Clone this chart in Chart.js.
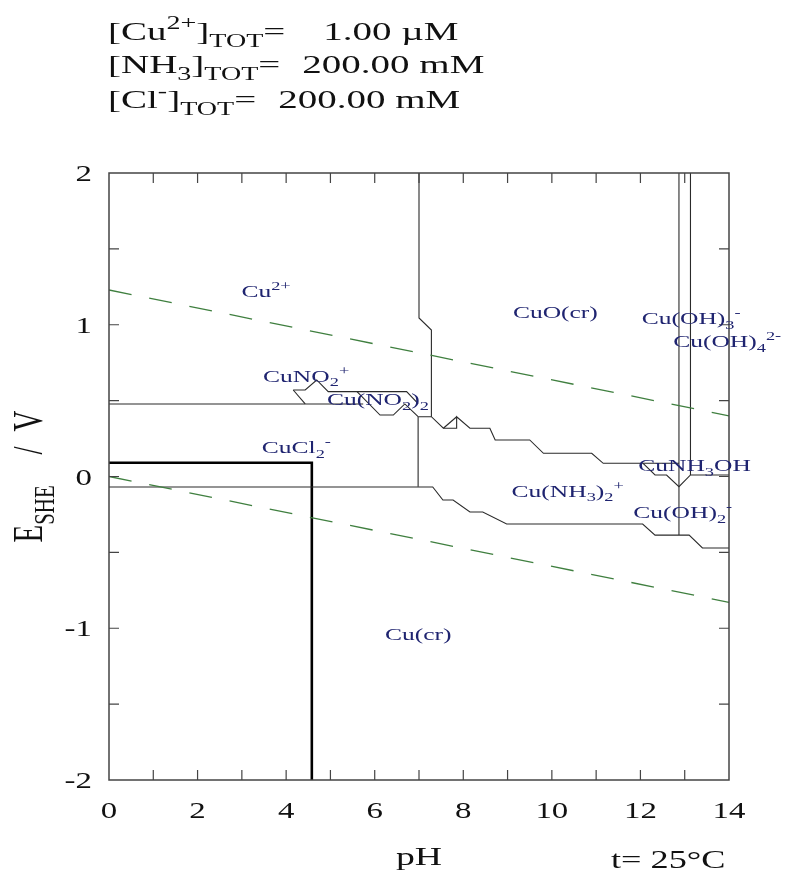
<!DOCTYPE html>
<html>
<head>
<meta charset="utf-8">
<script src="https://cdn.jsdelivr.net/npm/chart.js@4.4.1/dist/chart.umd.min.js"></script>
<style>
  html, body { margin: 0; padding: 0; background: #fff; }
  #wrap { width: 789px; height: 873px; }
</style>
</head>
<body>
<div id="wrap"><canvas id="pourbaix" width="789" height="873"></canvas></div>
<script>
// axis ticks
const xTickLabels = [0, 2, 4, 6, 8, 10, 12, 14];
const yTickLabels = [2, 1, 0, -1, -2];
const xMinor = [1, 2, 3, 4, 5, 6, 7, 8, 9, 10, 11, 12, 13];
const yMinor = [-1.5, -1, -0.5, 0, 0.5, 1, 1.5];

// water stability limits, [pH, E]
const waterUpper = [[0, 1.229], [14, 0.40]];
const waterLower = [[0, 0], [14, -0.829]];

// chloride complex field (heavy line)
const chlorideEdge = [[0, 0.091], [4.58, 0.091], [4.58, -2]];

// predominance boundaries, [pH, E]
const cuIonFloor = [[0, 0.478], [5.74, 0.478]];
const cuOxideWall = [[7.0, 2], [7.0, 1.045], [7.28, 0.965], [7.28, 0.394]];
const nitriteEdge = [[4.16, 0.57], [4.43, 0.478]];
const nitriteHatch = [[4.16, 0.57], [4.43, 0.57], [4.69, 0.636], [4.95, 0.559], [6.72, 0.559], [6.98, 0.48]];
const nitriteStep = [[5.6, 0.559], [6.12, 0.405], [6.42, 0.405], [6.68, 0.478], [6.98, 0.394]];
const ammineTop = [[6.98, 0.394], [7.28, 0.394], [7.55, 0.318], [7.85, 0.318], [7.85, 0.394], [8.15, 0.318],
  [8.6, 0.318], [8.72, 0.241], [9.5, 0.241], [9.81, 0.153], [10.9, 0.153], [11.16, 0.087], [12.87, 0.087]];
const ammineTriangle = [[7.55, 0.318], [7.85, 0.394]];
const ammineWall = [[6.98, 0.394], [6.98, -0.067]];
const metalEdge = [[0, -0.069], [7.31, -0.069], [7.54, -0.155], [7.77, -0.155], [8.15, -0.234], [8.44, -0.234],
  [8.98, -0.313], [12.05, -0.313], [12.33, -0.386], [13.1, -0.386], [13.4, -0.471], [14, -0.471]];
const hydroxoWallA = [[12.87, 2], [12.87, -0.386]];
const hydroxoWallB = [[13.13, 2], [13.13, 0.01]];
const hydroxoFloor = [[12.06, 0.087], [12.33, 0.01], [12.59, 0.01], [12.87, -0.067], [13.13, 0.01], [14, 0.01]];

// species labels: text, left pH, baseline E
const speciesText = ['Cu^{2+}', 'CuO(cr)', 'Cu(OH)_{3}^{-}', 'Cu(OH)_{4}^{2-}', 'CuNO_{2}^{+}', 'Cu(NO_{2})_{2}',
  'CuCl_{2}^{-}', 'CuNH_{3}OH', 'Cu(NH_{3})_{2}^{+}', 'Cu(OH)_{2}^{-}', 'Cu(cr)'];
const speciesPH = [2.99, 9.12, 12.03, 12.74, 3.48, 4.92, 3.45, 11.95, 9.09, 11.84, 6.23];
const speciesE = [1.183, 1.042, 1.003, 0.855, 0.625, 0.471, 0.153, 0.036, -0.133, -0.275, -1.08];

// totals printed above the plot
const totalNames = ['[Cu^{2+}]_{TOT}=', '[NH_{3}]_{TOT}=', '[Cl^{-}]_{TOT}='];
const totalValues = ['1.00 \u00b5M', '200.00 mM', '200.00 mM'];

const SERIF = '"Liberation Serif", "Times New Roman", serif';
const INK = '#1f2470';

function parseRich(str) {
  const parts = [];
  const re = /([_^])\{([^}]*)\}|([^_^]+)/g;
  let m;
  while ((m = re.exec(str)) !== null) {
    if (m[3] !== undefined) parts.push({ t: m[3], k: 'n' });
    else parts.push({ t: m[2], k: m[1] === '_' ? 'sub' : 'sup' });
  }
  return parts;
}

function richWidth(ctx, parts, size) {
  let w = 0;
  for (const p of parts) {
    ctx.font = (p.k === 'n' ? size : size * 0.72) + 'px ' + SERIF;
    w += ctx.measureText(p.t).width;
  }
  return w;
}

// draws text with sub/superscripts, stretched sideways by sx
function drawRich(ctx, str, x, y, size, opts = {}) {
  const sx = opts.sx || 1.45;
  const parts = parseRich(str);
  const w = richWidth(ctx, parts, size);
  ctx.save();
  ctx.translate(x, y);
  ctx.scale(sx, 1);
  if (opts.rotate) ctx.rotate(opts.rotate);
  ctx.fillStyle = opts.color || '#111';
  ctx.textBaseline = 'alphabetic';
  ctx.textAlign = 'left';
  let cx = opts.align === 'center' ? -w / 2 : opts.align === 'right' ? -w : 0;
  for (const p of parts) {
    const s = p.k === 'n' ? size : size * 0.72;
    ctx.font = s + 'px ' + SERIF;
    const dy = p.k === 'sub' ? size * 0.28 : p.k === 'sup' ? -size * 0.4 : 0;
    ctx.fillText(p.t, cx, dy);
    cx += ctx.measureText(p.t).width;
  }
  ctx.restore();
  return w * sx;
}

const toPoints = arr => arr.map(([x, y]) => ({ x, y }));

function boundary(arr, width = 1.1, color = '#2a2a2a') {
  return { data: toPoints(arr), borderColor: color, borderWidth: width, showLine: true, pointRadius: 0, fill: false };
}

const datasets = [
  Object.assign(boundary(waterUpper, 1.3, '#3f7f3f'), { borderDash: [23, 18] }),
  Object.assign(boundary(waterLower, 1.3, '#3f7f3f'), { borderDash: [23, 18] }),
  boundary(cuIonFloor),
  boundary(cuOxideWall),
  boundary(nitriteEdge),
  boundary(nitriteHatch),
  boundary(nitriteStep),
  boundary(ammineTop),
  boundary(ammineTriangle),
  boundary(ammineWall),
  boundary(metalEdge),
  boundary(hydroxoWallA),
  boundary(hydroxoWallB),
  boundary(hydroxoFloor),
  boundary(chlorideEdge, 2.6, '#000')
];

const frameAndText = {
  id: 'frameAndText',
  beforeDraw(chart) {
    const c = chart.ctx;
    c.save();
    c.fillStyle = '#fff';
    c.fillRect(0, 0, chart.width, chart.height);
    c.restore();
  },
  afterDraw(chart) {
    const c = chart.ctx;
    const { left, right, top, bottom } = chart.chartArea;
    const xs = chart.scales.x, ys = chart.scales.y;
    c.save();
    c.strokeStyle = '#444';
    c.lineWidth = 1.5;
    c.strokeRect(left, top, right - left, bottom - top);
    c.lineWidth = 1.2;
    c.beginPath();
    for (const v of xMinor) {
      const px = xs.getPixelForValue(v);
      c.moveTo(px, top); c.lineTo(px, top + 10);
      c.moveTo(px, bottom); c.lineTo(px, bottom - 10);
    }
    for (const v of yMinor) {
      const py = ys.getPixelForValue(v);
      c.moveTo(left, py); c.lineTo(left + 10, py);
      c.moveTo(right, py); c.lineTo(right - 10, py);
    }
    c.stroke();
    c.restore();

    for (const v of xTickLabels) {
      drawRich(c, String(v), xs.getPixelForValue(v), bottom + 38, 23, { align: 'center', sx: 1.43 });
    }
    for (const v of yTickLabels) {
      drawRich(c, String(v), left - 17, ys.getPixelForValue(v) + 8, 23, { align: 'right', sx: 1.43 });
    }

    drawRich(c, 'pH', xs.getPixelForValue(7), bottom + 85, 26, { align: 'center' });
    drawRich(c, 't= 25\u00b0C', right - 118, bottom + 88, 25, {});

    // vertical axis title, read bottom to top
    const yEnd = (top + bottom) / 2 + 66;
    const rot = { rotate: -Math.PI / 2, sx: 1.42 };
    c.save();
    c.translate(42, yEnd);
    drawRich(c, 'E_{SHE}', 0, 0, 29, rot);
    drawRich(c, '/', 0, -88, 29, rot);
    drawRich(c, 'V', 0, -111, 29, rot);
    c.restore();

    speciesText.forEach((t, i) => {
      drawRich(c, t, xs.getPixelForValue(speciesPH[i]), ys.getPixelForValue(speciesE[i]), 17, { color: INK, sx: 1.5 });
    });

    const baselines = [39.6, 73, 107.6];
    const gaps = [38, 22, 22];
    totalNames.forEach((t, i) => {
      const w = drawRich(c, t, 108, baselines[i], 26, { sx: 1.5 });
      drawRich(c, totalValues[i], 108 + w + gaps[i], baselines[i], 26, { sx: 1.5 });
    });
  }
};

new Chart(document.getElementById('pourbaix'), {
  type: 'scatter',
  data: { datasets },
  options: {
    responsive: false,
    animation: false,
    layout: { padding: { left: 109, right: 60, top: 173, bottom: 93 } },
    scales: {
      x: { type: 'linear', min: 0, max: 14, display: false },
      y: { type: 'linear', min: -2, max: 2, display: false }
    },
    elements: { line: { tension: 0 }, point: { radius: 0 } },
    plugins: { legend: { display: false }, tooltip: { enabled: false } }
  },
  plugins: [frameAndText]
});
</script>
</body>
</html>
